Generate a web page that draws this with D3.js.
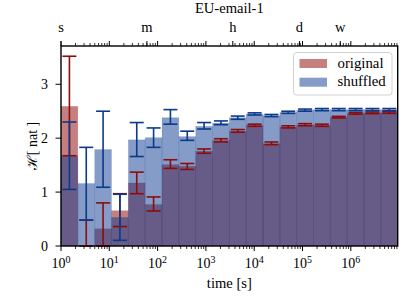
<!DOCTYPE html>
<html><head><meta charset="utf-8">
<script src="https://cdn.jsdelivr.net/npm/d3@7"></script>
<style>
html,body{margin:0;padding:0;background:#fff;}
text{font-family:"Times New Roman","Liberation Serif",Times,"DejaVu Serif",serif;fill:#000;}
</style></head>
<body>
<svg id="chart" width="406" height="308"></svg>
<script>
// ---- data ----
const title = "EU-email-1";
const binEdges = [1, 2.231, 4.977, 11.10, 24.77, 55.26, 123.3, 275.1, 613.8, 1369, 3055, 6816,
  15210, 33930, 75700, 168900, 376800, 840700, 1876000, 4185000, 9337000];
const original = [2.59, 0, 0.32, 0.655, 1.17, 0.77, 1.51, 1.48, 1.76, 1.96, 2.13, 2.24, 1.90, 2.21, 2.25, 2.24, 2.39, 2.46, 2.47, 2.475];
const shuffled = [1.67, 1.16, 1.79, 0.53, 1.97, 2.01, 2.38, 2.03, 2.22, 2.28, 2.38, 2.45, 2.42, 2.48, 2.52, 2.53, 2.53, 2.53, 2.53, 2.53];
const originalLo = [1.675, 0, 0, 0.36, 0.97, 0.65, 1.44, 1.42, 1.72, 1.93, 2.11, 2.22, 1.88, 2.19, 2.23, 2.22, 2.375, 2.445, 2.455, 2.46];
const originalHi = [3.52, 0.48, 0.80, 0.97, 1.37, 0.91, 1.60, 1.53, 1.80, 1.99, 2.16, 2.26, 1.93, 2.23, 2.27, 2.26, 2.405, 2.475, 2.485, 2.49];
const shuffledLo = [1.05, 0.48, 1.09, 0.105, 1.66, 1.83, 2.26, 1.96, 2.17, 2.25, 2.35, 2.43, 2.40, 2.46, 2.50, 2.51, 2.51, 2.51, 2.51, 2.51];
const shuffledHi = [2.30, 1.83, 2.50, 0.96, 2.29, 2.19, 2.53, 2.13, 2.29, 2.32, 2.41, 2.47, 2.44, 2.50, 2.54, 2.55, 2.55, 2.55, 2.55, 2.55];
const yTicks = [0, 1, 2, 3];
const xTickExps = [0, 1, 2, 3, 4, 5, 6];
const topTickLabels = ["s", "m", "h", "d", "w"];
const topTickValues = [1, 60, 3600, 86400, 604800];
const seriesNames = ["original", "shuffled"];
const xLabel = "time [s]";
const yLabel = "\u210B[ nat ]";

// ---- layout ----
const svg = d3.select("#chart");
const m = {l: 61, r: 8.3, t: 46, b: 62};
const W = 406, H = 308;
const FS = 14;
const x = d3.scaleLog().domain([binEdges[0], binEdges[binEdges.length-1]]).range([m.l, W - m.r]);
const y = d3.scaleLinear().domain([0, 3.71]).range([H - m.b, m.t]);
const redC = "#8b0000", blueC = "#0a3a8f";
const errRed = "#8c0c0c", errBlue = "#0b3a8c";

const bins = original.map((v, i) => ({i, x0: binEdges[i], x1: binEdges[i+1], o: v, s: shuffled[i],
  oLo: originalLo[i], oHi: originalHi[i], sLo: shuffledLo[i], sHi: shuffledHi[i]}));

const plot = svg.append("g");
function bars(key, col) {
  plot.append("g").selectAll("rect").data(bins).join("rect")
    .attr("x", d => x(d.x0)).attr("width", d => x(d.x1) - x(d.x0))
    .attr("y", d => y(d[key])).attr("height", d => y(0) - y(d[key]))
    .attr("fill", col).attr("fill-opacity", 0.5)
    .attr("stroke", col).attr("stroke-opacity", 0.12).attr("stroke-width", 0.8);
}
bars("o", redC);
bars("s", blueC);

function errs(lo, hi, col) {
  const g = plot.append("g").attr("stroke", col).attr("stroke-width", 1.6).attr("fill", "none");
  const cx = d => (x(d.x0) + x(d.x1)) / 2;
  const cw = 7;
  g.selectAll("line.v").data(bins).join("line").attr("class", "v")
    .attr("x1", cx).attr("x2", cx).attr("y1", d => y(d[lo])).attr("y2", d => y(d[hi]));
  g.selectAll("line.lo").data(bins).join("line").attr("class", "lo")
    .attr("x1", d => cx(d) - cw).attr("x2", d => cx(d) + cw).attr("y1", d => y(d[lo])).attr("y2", d => y(d[lo]));
  g.selectAll("line.hi").data(bins).join("line").attr("class", "hi")
    .attr("x1", d => cx(d) - cw).attr("x2", d => cx(d) + cw).attr("y1", d => y(d[hi])).attr("y2", d => y(d[hi]));
}
errs("oLo", "oHi", errRed);
errs("sLo", "sHi", errBlue);

svg.append("rect").attr("x", m.l).attr("y", m.t)
  .attr("width", W - m.r - m.l).attr("height", H - m.b - m.t)
  .attr("fill", "none").attr("stroke", "#000").attr("stroke-width", 1.4);

// bottom axis ticks
const minorVals = [];
for (let e = 0; e <= 6; e++) for (let k = 2; k <= 9; k++) { const v = k * Math.pow(10, e); if (v <= binEdges[20]) minorVals.push(v); }
const gBottom = svg.append("g");
gBottom.selectAll("line.maj").data(xTickExps).join("line").attr("class", "maj")
  .attr("x1", e => x(Math.pow(10, e))).attr("x2", e => x(Math.pow(10, e)))
  .attr("y1", H - m.b).attr("y2", H - m.b + 5).attr("stroke", "#000").attr("stroke-width", 1);
gBottom.selectAll("line.min").data(minorVals).join("line").attr("class", "min")
  .attr("x1", v => x(v)).attr("x2", v => x(v))
  .attr("y1", H - m.b).attr("y2", H - m.b + 3).attr("stroke", "#000").attr("stroke-width", 0.8);
const lab = gBottom.selectAll("text").data(xTickExps).join("text")
  .attr("x", e => x(Math.pow(10, e))).attr("y", 268.3)
  .attr("text-anchor", "middle").attr("font-size", FS);
lab.append("tspan").text("10");
lab.append("tspan").attr("dy", -5.5).attr("font-size", 10).text(e => e);

// top axis
const gTop = svg.append("g");
gTop.selectAll("line.min").data(minorVals).join("line").attr("class", "min")
  .attr("x1", v => x(v)).attr("x2", v => x(v))
  .attr("y1", m.t).attr("y2", m.t - 3).attr("stroke", "#000").attr("stroke-width", 0.8);
gTop.selectAll("line.maj").data(xTickExps).join("line").attr("class", "maj")
  .attr("x1", e => x(Math.pow(10, e))).attr("x2", e => x(Math.pow(10, e)))
  .attr("y1", m.t).attr("y2", m.t - 5).attr("stroke", "#000").attr("stroke-width", 1);
gTop.selectAll("line.tl").data(topTickValues).join("line").attr("class", "tl")
  .attr("x1", v => x(v)).attr("x2", v => x(v))
  .attr("y1", m.t).attr("y2", m.t - 5).attr("stroke", "#000").attr("stroke-width", 1);
gTop.selectAll("text").data(topTickValues).join("text")
  .attr("x", v => x(v)).attr("y", 32)
  .attr("text-anchor", "middle").attr("font-size", 14.5)
  .text((v, i) => topTickLabels[i]);

// y axis
const gLeft = svg.append("g");
gLeft.selectAll("line").data(yTicks).join("line")
  .attr("x1", m.l).attr("x2", m.l - 5.5).attr("y1", d => y(d)).attr("y2", d => y(d))
  .attr("stroke", "#000").attr("stroke-width", 1);
gLeft.selectAll("text").data(yTicks).join("text")
  .attr("x", 48).attr("y", d => y(d)).attr("dy", "0.34em")
  .attr("text-anchor", "end").attr("font-size", FS).text(d => d);

svg.append("text").attr("transform", `translate(36.5,${(m.t + H - m.b) / 2}) rotate(-90)`)
  .attr("text-anchor", "middle").attr("font-size", FS).text(yLabel);
svg.append("text").attr("x", (m.l + W - m.r) / 2).attr("y", 288)
  .attr("text-anchor", "middle").attr("font-size", 14.6).text(xLabel);
svg.append("text").attr("x", (m.l + W - m.r) / 2).attr("y", 13)
  .attr("text-anchor", "middle").attr("font-size", 14.6).text(title);

// legend
const lg = svg.append("g");
lg.append("rect").attr("x", 293.5).attr("y", 52.5).attr("width", 98.5).attr("height", 42.5)
  .attr("rx", 3).attr("fill", "#fff").attr("fill-opacity", 0.8)
  .attr("stroke", "#cccccc").attr("stroke-width", 0.9);
const cols = [redC, blueC];
seriesNames.forEach((n, i) => {
  lg.append("rect").attr("x", 299.5).attr("y", 59 + i * 18.7).attr("width", 27.5).attr("height", 9)
    .attr("fill", cols[i]).attr("fill-opacity", 0.5);
  lg.append("text").attr("x", 337.5).attr("y", 67.5 + i * 18.9).attr("font-size", 14.8).text(n);
});
</script>
</body></html>
